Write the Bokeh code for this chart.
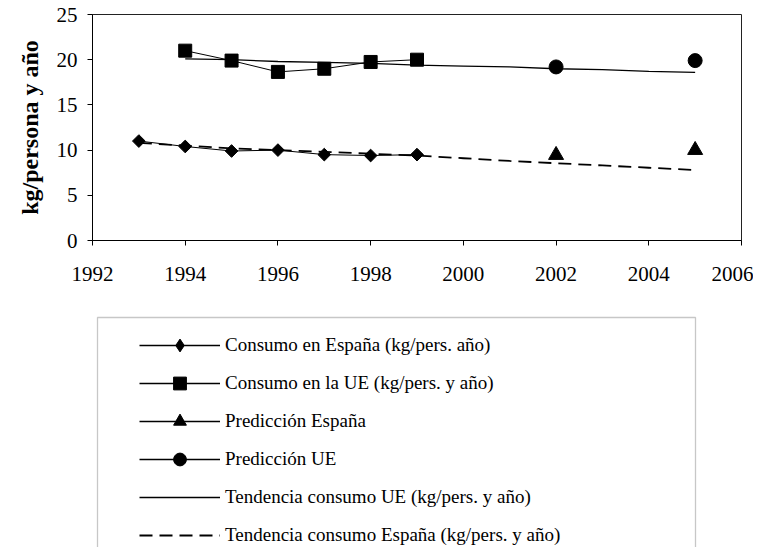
from bokeh.plotting import figure
from bokeh.models import (Legend, LegendItem, FixedTicker, ColumnDataSource,
                          Range1d, BasicTickFormatter, BoxAnnotation)
from bokeh.layouts import column
from bokeh.embed import file_html
from bokeh.resources import INLINE
import math

# ---------------- data ----------------
years_es = [1993, 1994, 1995, 1996, 1997, 1998, 1999]
consumo_es = [11.0, 10.4, 9.9, 10.0, 9.5, 9.4, 9.5]

years_ue = [1994, 1995, 1996, 1997, 1998, 1999]
consumo_ue = [21.0, 19.9, 18.65, 19.0, 19.75, 20.0]

years_pred = [2002, 2005]
pred_es = [9.45, 10.0]
pred_ue = [19.2, 19.9]

years_trend_ue = [1994, 1995, 1996, 1997, 1998, 1999, 2000, 2001, 2002, 2003, 2004, 2005]
trend_ue = [20.1, 20.0, 19.8, 19.7, 19.6, 19.4, 19.3, 19.2, 19.0, 18.9, 18.7, 18.6]

years_trend_es = [1993, 1994, 1995, 1996, 1997, 1998, 1999, 2000, 2001, 2002, 2003, 2004, 2005]
trend_es = [10.8, 10.5, 10.2, 10.0, 9.8, 9.6, 9.4, 9.1, 8.8, 8.55, 8.3, 8.05, 7.8]

x_ticks = [1992, 1994, 1996, 1998, 2000, 2002, 2004, 2006]
y_ticks = [0, 5, 10, 15, 20, 25]

y_label = "kg/persona y año"
legend_labels = [
    "Consumo en España (kg/pers. año)",
    "Consumo en la UE (kg/pers. y año)",
    "Predicción España",
    "Predicción UE",
    "Tendencia consumo UE (kg/pers. y año)",
    "Tendencia consumo España (kg/pers. y año)",
]

SERIF = "Liberation Serif"

# ---------------- chart figure ----------------
p = figure(width=753, height=300, output_backend="svg", toolbar_location=None,
           x_range=Range1d(1992, 2006), y_range=Range1d(0, 25),
           min_border_left=92, min_border_right=12, min_border_top=14,
           min_border_bottom=60)
p.grid.visible = False
p.outline_line_color = "#222222"
p.outline_line_width = 1
p.background_fill_color = "white"
p.border_fill_color = "white"

for ax in (p.xaxis[0], p.yaxis[0]):
    ax.axis_line_color = "black"
    ax.axis_line_width = 1
    ax.major_tick_line_color = "black"
    ax.major_tick_out = 5
    ax.major_tick_in = 0
    ax.minor_tick_line_color = None
    ax.major_label_text_font = SERIF
    ax.major_label_text_font_size = "21px"
    ax.major_label_text_color = "black"

p.xaxis[0].ticker = FixedTicker(ticks=x_ticks)
p.xaxis[0].formatter = BasicTickFormatter(use_scientific=False)
p.xaxis[0].major_label_standoff = 21
p.yaxis[0].ticker = FixedTicker(ticks=y_ticks)
p.yaxis[0].major_label_standoff = 10
p.yaxis[0].axis_label = y_label
p.yaxis[0].axis_label_text_font = SERIF
p.yaxis[0].axis_label_text_font_size = "24px"
p.yaxis[0].axis_label_text_font_style = "bold"
p.yaxis[0].axis_label_text_color = "black"
p.yaxis[0].axis_label_standoff = 11

src_es = ColumnDataSource(dict(x=years_es, y=consumo_es))
src_ue = ColumnDataSource(dict(x=years_ue, y=consumo_ue))
src_pes = ColumnDataSource(dict(x=years_pred, y=pred_es))
src_pue = ColumnDataSource(dict(x=years_pred, y=pred_ue))
src_tue = ColumnDataSource(dict(x=years_trend_ue, y=trend_ue))
src_tes = ColumnDataSource(dict(x=years_trend_es, y=trend_es))

p.line("x", "y", source=src_tue, line_color="black", line_width=1.3)
p.line("x", "y", source=src_tes, line_color="black", line_width=1.8, line_dash="13 7")
p.line("x", "y", source=src_es, line_color="black", line_width=1)
p.line("x", "y", source=src_ue, line_color="black", line_width=1)
p.scatter("x", "y", source=src_es, marker="square", angle=math.pi / 4, size=9,
          fill_color="black", line_color="black")
p.scatter("x", "y", source=src_ue, marker="square", size=13,
          fill_color="black", line_color="black")
p.scatter("x", "y", source=src_pes, marker="triangle", size=15,
          fill_color="black", line_color="black")
p.scatter("x", "y", source=src_pue, marker="circle", size=14,
          fill_color="black", line_color="black")

# ---------------- legend figure ----------------
# Same horizontal frame as the chart; its ranges keep the sample renderers'
# data out of view, so only their legend glyphs show.
q = figure(width=753, height=247, output_backend="svg", toolbar_location=None,
           x_range=Range1d(0, 1), y_range=Range1d(0, 1),
           min_border_left=92, min_border_right=12, min_border_top=0,
           min_border_bottom=0)
q.grid.visible = False
q.axis.visible = False
q.outline_line_color = None
q.background_fill_color = "white"
q.border_fill_color = "white"

lg_line = [q.line("x", "y", source=s, line_color="black", line_width=1.5)
           for s in (ColumnDataSource(dict(x=years_es, y=consumo_es)),
                     ColumnDataSource(dict(x=years_ue, y=consumo_ue)),
                     ColumnDataSource(dict(x=years_pred, y=pred_es)),
                     ColumnDataSource(dict(x=years_pred, y=pred_ue)),
                     ColumnDataSource(dict(x=years_trend_ue, y=trend_ue)))]
lg_dash = q.line("x", "y", source=ColumnDataSource(dict(x=years_trend_es, y=trend_es)),
                 line_color="black", line_width=2, line_dash="13 7")
lg_dia = q.scatter("x", "y", source=ColumnDataSource(dict(x=years_es, y=consumo_es)),
                   marker="diamond", fill_color="black", line_color="black")
lg_sq = q.scatter("x", "y", source=ColumnDataSource(dict(x=years_ue, y=consumo_ue)),
                  marker="square", fill_color="black", line_color="black")
lg_tri = q.scatter("x", "y", source=ColumnDataSource(dict(x=years_pred, y=pred_es)),
                   marker="triangle", fill_color="black", line_color="black")
lg_cir = q.scatter("x", "y", source=ColumnDataSource(dict(x=years_pred, y=pred_ue)),
                   marker="circle", fill_color="black", line_color="black")

items = [
    LegendItem(label=legend_labels[0], renderers=[lg_line[0], lg_dia]),
    LegendItem(label=legend_labels[1], renderers=[lg_line[1], lg_sq]),
    LegendItem(label=legend_labels[2], renderers=[lg_line[2], lg_tri]),
    LegendItem(label=legend_labels[3], renderers=[lg_line[3], lg_cir]),
    LegendItem(label=legend_labels[4], renderers=[lg_line[4]]),
    LegendItem(label=legend_labels[5], renderers=[lg_dash]),
]
legend = Legend(items=items, location=(43, -8), orientation="vertical",
                glyph_width=81, glyph_height=32, label_height=32, spacing=6,
                padding=4, margin=0, label_standoff=5, label_width=420,
                label_text_font=SERIF, label_text_font_size="19px",
                label_text_color="black",
                border_line_alpha=0, background_fill_alpha=0)
q.add_layout(legend, "center")

box = BoxAnnotation(left=97, right=695, top=17, bottom=270,
                    left_units="canvas", right_units="canvas",
                    top_units="canvas", bottom_units="canvas",
                    fill_alpha=0, line_color="#444444", line_width=1.3)
q.add_layout(box)

layout = column(p, q, spacing=0)
open("out.html", "w").write(file_html(layout, INLINE))
